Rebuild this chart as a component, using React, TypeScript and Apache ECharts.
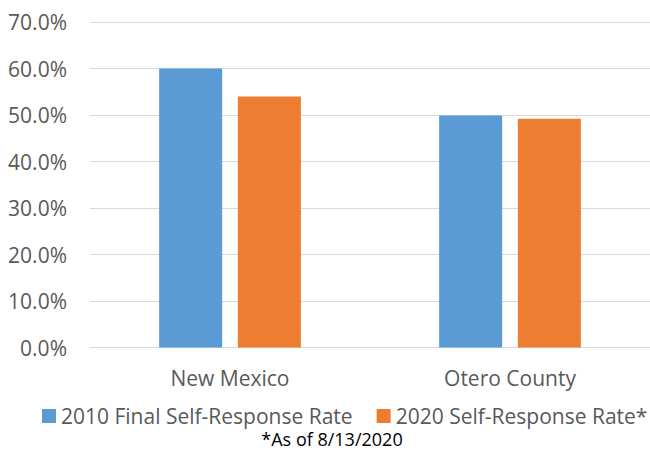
import React, { useEffect, useRef } from "react";
import * as echarts from "echarts";

const categories = ["New Mexico", "Otero County"];
const seriesNames = ["2010 Final Self-Response Rate", "2020 Self-Response Rate*"];
const rate2010 = [60.0, 49.9];
const rate2020 = [54.0, 49.2];
const footnote = "*As of 8/13/2020";

const FONT = "'Open Sans', 'Noto Sans', sans-serif";
const GREY = "#595959";

export default function App() {
  const ref = useRef<HTMLDivElement>(null);

  useEffect(() => {
    if (!ref.current) return;
    const chart = echarts.init(ref.current, undefined, { renderer: "svg" });
    chart.setOption({
      animation: false,
      textStyle: { fontFamily: FONT },
      grid: { left: 90, width: 566, top: 22, height: 325.5, containLabel: false },
      legend: {
        left: 42,
        top: 405,
        width: 608,
        padding: 0,
        itemWidth: 14,
        itemHeight: 14,
        itemGap: 24,
        icon: "rect",
        textStyle: { fontFamily: FONT, fontSize: 21, lineHeight: 22, color: GREY },
        data: seriesNames,
      },
      xAxis: {
        type: "category",
        data: categories,
        axisTick: { show: false },
        axisLine: { lineStyle: { color: "#D9D9D9", width: 1 } },
        axisLabel: { fontFamily: FONT, fontSize: 21, color: GREY, margin: 20 },
      },
      yAxis: {
        type: "value",
        min: 0,
        max: 70,
        interval: 10,
        axisLine: { show: false },
        axisTick: { show: false },
        splitLine: { lineStyle: { color: "#D9D9D9", width: 1 } },
        axisLabel: {
          fontFamily: FONT,
          fontSize: 21,
          color: GREY,
          margin: 23,
          formatter: (v: number) => v.toFixed(1) + "%",
        },
      },
      series: [
        {
          name: seriesNames[0],
          type: "bar",
          data: rate2010,
          barWidth: 63,
          barGap: "25%",
          itemStyle: { color: "#5B9BD5" },
        },
        {
          name: seriesNames[1],
          type: "bar",
          data: rate2020,
          barWidth: 63,
          itemStyle: { color: "#ED7D31" },
        },
      ],
      graphic: [
        {
          type: "text",
          x: 332,
          y: 439,
          style: {
            text: footnote,
            fontFamily: FONT,
            fontSize: 18,
            lineHeight: 19,
            fill: "#000000",
            textAlign: "center",
            textVerticalAlign: "middle",
          },
        },
      ],
    });
    return () => chart.dispose();
  }, []);

  return <div ref={ref} style={{ width: 650, height: 450, position: "absolute", left: 0, top: 0 }} />;
}
